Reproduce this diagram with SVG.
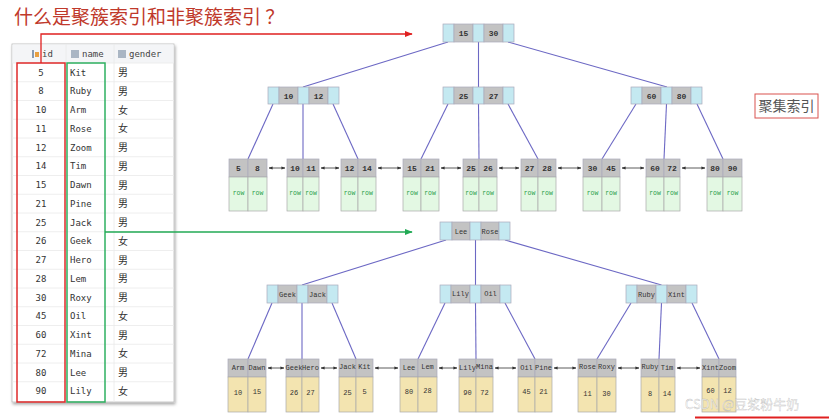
<svg xmlns="http://www.w3.org/2000/svg" width="829" height="419" viewBox="0 0 829 419">
<style>
.title{font-family:"Noto Sans CJK SC","Noto Sans",sans-serif;font-size:19px;fill:#c0392b}
.tb{font-family:"DejaVu Sans Mono","Liberation Mono",monospace;font-size:9px;fill:#333}
.tbc{font-family:"Noto Sans CJK SC",sans-serif;font-size:10px;fill:#333}
.th{font-family:"DejaVu Sans Mono","Liberation Mono",monospace;font-size:9px;fill:#444}
.ptr{fill:#c4e9f1;stroke:#aab;stroke-width:0.7}
.key{fill:#c3c3c3;stroke:#aab;stroke-width:0.7}
.kt{font-family:"Liberation Mono","DejaVu Sans Mono",monospace;font-size:8px;font-weight:bold;fill:#333;text-anchor:middle}
.nt{font-family:"Liberation Mono","DejaVu Sans Mono",monospace;font-size:7px;fill:#333;text-anchor:middle}
.row{fill:#e3f8e3;stroke:#aaa;stroke-width:0.7}
.yel{fill:#f3e4b0;stroke:#aaa;stroke-width:0.7}
.rt{font-family:"Liberation Mono",monospace;font-size:6.5px;fill:#2aa04a;text-anchor:middle}
.vt{font-family:"Liberation Mono",monospace;font-size:7px;fill:#333;text-anchor:middle}
.edge{stroke:#6c68c4;stroke-width:1.1;fill:none}
.link{stroke:#333;stroke-width:0.8;fill:none;marker-start:url(#sa);marker-end:url(#sa)}
.rl{stroke:#eaeaea;stroke-width:0.8}
</style>
<defs>
<marker id="sa" viewBox="0 0 10 10" refX="9" refY="5" markerWidth="5" markerHeight="5" orient="auto-start-reverse"><path d="M0,1 L10,5 L0,9 z" fill="#333"/></marker>
<marker id="ra" viewBox="0 0 10 10" refX="9" refY="5" markerWidth="6" markerHeight="6" orient="auto"><path d="M0,1 L10,5 L0,9 z" fill="#e02020"/></marker>
<marker id="ga" viewBox="0 0 10 10" refX="9" refY="5" markerWidth="6" markerHeight="6" orient="auto"><path d="M0,1 L10,5 L0,9 z" fill="#22aa55"/></marker>
<filter id="sh" x="-10%" y="-10%" width="120%" height="120%"><feDropShadow dx="1" dy="2" stdDeviation="1.5" flood-color="#000" flood-opacity="0.35"/></filter>
</defs>
<rect width="829" height="419" fill="#ffffff"/>
<text class="title" x="14" y="24">什么是聚簇索引和非聚簇索引 ？</text>

<g id="table">
<rect x="12" y="44" width="162" height="358" fill="#fff" stroke="#bbb" stroke-width="0.8" filter="url(#sh)"/>
<rect x="12.5" y="44.5" width="161" height="18.5" fill="#f4f5f7"/>
<line x1="66" y1="44" x2="66" y2="402" class="rl"/>
<line x1="114" y1="44" x2="114" y2="402" class="rl"/>
<g fill="#8a9bb0"><rect x="32" y="50" width="2" height="8"/><rect x="35" y="52" width="4" height="5" fill="#e8a040"/><rect x="71" y="50" width="8" height="8" fill="#aab6c4"/><rect x="118" y="50" width="8" height="8" fill="#aab6c4"/></g>
<text class="th" x="42" y="57">id</text>
<text class="th" x="82" y="57">name</text>
<text class="th" x="129" y="57">gender</text>
<g>
<line x1="12" y1="63" x2="174" y2="63" class="rl"/>
<line x1="12" y1="81.75" x2="174" y2="81.75" class="rl"/>
<line x1="12" y1="100.5" x2="174" y2="100.5" class="rl"/>
<line x1="12" y1="119.25" x2="174" y2="119.25" class="rl"/>
<line x1="12" y1="138" x2="174" y2="138" class="rl"/>
<line x1="12" y1="156.75" x2="174" y2="156.75" class="rl"/>
<line x1="12" y1="175.5" x2="174" y2="175.5" class="rl"/>
<line x1="12" y1="194.25" x2="174" y2="194.25" class="rl"/>
<line x1="12" y1="213" x2="174" y2="213" class="rl"/>
<line x1="12" y1="231.75" x2="174" y2="231.75" class="rl"/>
<line x1="12" y1="250.5" x2="174" y2="250.5" class="rl"/>
<line x1="12" y1="269.25" x2="174" y2="269.25" class="rl"/>
<line x1="12" y1="288" x2="174" y2="288" class="rl"/>
<line x1="12" y1="306.75" x2="174" y2="306.75" class="rl"/>
<line x1="12" y1="325.5" x2="174" y2="325.5" class="rl"/>
<line x1="12" y1="344.25" x2="174" y2="344.25" class="rl"/>
<line x1="12" y1="363" x2="174" y2="363" class="rl"/>
<line x1="12" y1="381.75" x2="174" y2="381.75" class="rl"/>
</g>
<g class="tb" text-anchor="middle">
<text x="41" y="75.5">5</text><text x="41" y="94.3">8</text><text x="41" y="113">10</text><text x="41" y="131.8">11</text><text x="41" y="150.5">12</text><text x="41" y="169.3">14</text><text x="41" y="188">15</text><text x="41" y="206.8">21</text><text x="41" y="225.5">25</text><text x="41" y="244.3">26</text><text x="41" y="263">27</text><text x="41" y="281.8">28</text><text x="41" y="300.5">30</text><text x="41" y="319.3">45</text><text x="41" y="338">60</text><text x="41" y="356.8">72</text><text x="41" y="375.5">80</text><text x="41" y="394.3">90</text>
</g>
<g class="tb">
<text x="70" y="75.5">Kit</text><text x="70" y="94.3">Ruby</text><text x="70" y="113">Arm</text><text x="70" y="131.8">Rose</text><text x="70" y="150.5">Zoom</text><text x="70" y="169.3">Tim</text><text x="70" y="188">Dawn</text><text x="70" y="206.8">Pine</text><text x="70" y="225.5">Jack</text><text x="70" y="244.3">Geek</text><text x="70" y="263">Hero</text><text x="70" y="281.8">Lem</text><text x="70" y="300.5">Roxy</text><text x="70" y="319.3">Oil</text><text x="70" y="338">Xint</text><text x="70" y="356.8">Mina</text><text x="70" y="375.5">Lee</text><text x="70" y="394.3">Lily</text>
</g>
<g class="tbc">
<text x="118" y="76">男</text><text x="118" y="94.8">男</text><text x="118" y="113.5">女</text><text x="118" y="132.3">女</text><text x="118" y="151">男</text><text x="118" y="169.8">男</text><text x="118" y="188.5">男</text><text x="118" y="207.3">男</text><text x="118" y="226">男</text><text x="118" y="244.8">女</text><text x="118" y="263.5">男</text><text x="118" y="282.3">男</text><text x="118" y="301">男</text><text x="118" y="319.8">女</text><text x="118" y="338.5">男</text><text x="118" y="357.3">女</text><text x="118" y="376">男</text><text x="118" y="394.8">女</text>
</g>
<rect x="17" y="63" width="48" height="339" fill="none" stroke="#e02a2a" stroke-width="1.5"/>
<rect x="67" y="63" width="38" height="339" fill="none" stroke="#2eb060" stroke-width="1.5"/>
</g>

<g id="connectors">
<path d="M41,63 V34 H412" stroke="#e02020" stroke-width="1.3" fill="none" marker-end="url(#ra)"/>
<path d="M105,232 H412" stroke="#22aa55" stroke-width="1.3" fill="none" marker-end="url(#ga)"/>
<line class="edge" x1="448" y1="42" x2="303" y2="87"/>
<line class="edge" x1="478.5" y1="42" x2="478.5" y2="87"/>
<line class="edge" x1="508" y1="42" x2="667" y2="87"/>
<line class="edge" x1="273" y1="104" x2="248" y2="159"/>
<line class="edge" x1="303" y1="104" x2="303" y2="159"/>
<line class="edge" x1="333" y1="104" x2="358" y2="159"/>
<line class="edge" x1="448" y1="104" x2="421" y2="159"/>
<line class="edge" x1="478.5" y1="104" x2="479" y2="159"/>
<line class="edge" x1="508" y1="104" x2="538" y2="159"/>
<line class="edge" x1="636" y1="104" x2="602" y2="159"/>
<line class="edge" x1="666.5" y1="104" x2="664" y2="159"/>
<line class="edge" x1="697" y1="104" x2="723" y2="159"/>
<line class="edge" x1="446" y1="240" x2="302" y2="285"/>
<line class="edge" x1="475.5" y1="240" x2="475.5" y2="285"/>
<line class="edge" x1="505" y1="240" x2="661.5" y2="285"/>
<line class="edge" x1="272" y1="303" x2="248" y2="359"/>
<line class="edge" x1="302" y1="303" x2="302" y2="359"/>
<line class="edge" x1="332" y1="303" x2="356" y2="359"/>
<line class="edge" x1="445" y1="303" x2="418" y2="359"/>
<line class="edge" x1="475.5" y1="303" x2="476" y2="359"/>
<line class="edge" x1="505" y1="303" x2="535" y2="359"/>
<line class="edge" x1="631" y1="303" x2="597" y2="359"/>
<line class="edge" x1="661.5" y1="303" x2="659" y2="359"/>
<line class="edge" x1="692" y1="303" x2="719" y2="359"/>
<line class="link" x1="269" y1="168" x2="285" y2="168"/>
<line class="link" x1="321" y1="168" x2="339" y2="168"/>
<line class="link" x1="378" y1="168" x2="401" y2="168"/>
<line class="link" x1="441" y1="168" x2="461" y2="168"/>
<line class="link" x1="499" y1="168" x2="519" y2="168"/>
<line class="link" x1="558" y1="168" x2="581" y2="168"/>
<line class="link" x1="622" y1="168" x2="644" y2="168"/>
<line class="link" x1="682" y1="168" x2="705" y2="168"/>
<line class="link" x1="268" y1="368" x2="284" y2="368"/>
<line class="link" x1="321" y1="368" x2="337" y2="368"/>
<line class="link" x1="375" y1="368" x2="398" y2="368"/>
<line class="link" x1="439" y1="368" x2="457" y2="368"/>
<line class="link" x1="495" y1="368" x2="516" y2="368"/>
<line class="link" x1="554" y1="368" x2="576" y2="368"/>
<line class="link" x1="618" y1="368" x2="639" y2="368"/>
<line class="link" x1="677" y1="368" x2="700" y2="368"/>
</g>

<g id="c-root"><rect class="ptr" x="443" y="24" width="11" height="18"/><rect class="key" x="454" y="24" width="19" height="18"/><rect class="ptr" x="473" y="24" width="11" height="18"/><rect class="key" x="484" y="24" width="19" height="18"/><rect class="ptr" x="503" y="24" width="11" height="18"/><text class="kt" x="463.5" y="36">15</text><text class="kt" x="493.5" y="36">30</text></g>
<g id="c-n1"><rect class="ptr" x="268" y="87" width="11" height="17"/><rect class="key" x="279" y="87" width="19" height="17"/><rect class="ptr" x="298" y="87" width="11" height="17"/><rect class="key" x="309" y="87" width="19" height="17"/><rect class="ptr" x="328" y="87" width="11" height="17"/><text class="kt" x="288.5" y="98.5">10</text><text class="kt" x="318.5" y="98.5">12</text></g>
<g id="c-n2"><rect class="ptr" x="443" y="87" width="11" height="17"/><rect class="key" x="454" y="87" width="19" height="17"/><rect class="ptr" x="473" y="87" width="11" height="17"/><rect class="key" x="484" y="87" width="19" height="17"/><rect class="ptr" x="503" y="87" width="11" height="17"/><text class="kt" x="463.5" y="98.5">25</text><text class="kt" x="493.5" y="98.5">27</text></g>
<g id="c-n3"><rect class="ptr" x="631" y="87" width="11" height="17"/><rect class="key" x="642" y="87" width="19" height="17"/><rect class="ptr" x="661" y="87" width="11" height="17"/><rect class="key" x="672" y="87" width="19" height="17"/><rect class="ptr" x="691" y="87" width="11" height="17"/><text class="kt" x="651.5" y="98.5">60</text><text class="kt" x="681.5" y="98.5">80</text></g>

<g id="c-l1"><rect class="key" x="229" y="159" width="19" height="18"/><rect class="key" x="248" y="159" width="19" height="18"/><rect class="row" x="229" y="177" width="19" height="34"/><rect class="row" x="248" y="177" width="19" height="34"/><text class="kt" x="238.5" y="171">5</text><text class="kt" x="257.5" y="171">8</text><text class="rt" x="238.5" y="195">row</text><text class="rt" x="257.5" y="195">row</text></g>
<g id="c-l2"><rect class="key" x="287" y="159" width="16" height="18"/><rect class="key" x="303" y="159" width="16" height="18"/><rect class="row" x="287" y="177" width="16" height="34"/><rect class="row" x="303" y="177" width="16" height="34"/><text class="kt" x="295" y="171">10</text><text class="kt" x="311" y="171">11</text><text class="rt" x="295" y="195">row</text><text class="rt" x="311" y="195">row</text></g>
<g id="c-l3"><rect class="key" x="341" y="159" width="17" height="18"/><rect class="key" x="358" y="159" width="18" height="18"/><rect class="row" x="341" y="177" width="17" height="34"/><rect class="row" x="358" y="177" width="18" height="34"/><text class="kt" x="349.5" y="171">12</text><text class="kt" x="367" y="171">14</text><text class="rt" x="349.5" y="195">row</text><text class="rt" x="367" y="195">row</text></g>
<g id="c-l4"><rect class="key" x="403" y="159" width="18" height="18"/><rect class="key" x="421" y="159" width="18" height="18"/><rect class="row" x="403" y="177" width="18" height="34"/><rect class="row" x="421" y="177" width="18" height="34"/><text class="kt" x="412" y="171">15</text><text class="kt" x="430" y="171">21</text><text class="rt" x="412" y="195">row</text><text class="rt" x="430" y="195">row</text></g>
<g id="c-l5"><rect class="key" x="463" y="159" width="16" height="18"/><rect class="key" x="479" y="159" width="18" height="18"/><rect class="row" x="463" y="177" width="16" height="34"/><rect class="row" x="479" y="177" width="18" height="34"/><text class="kt" x="471" y="171">25</text><text class="kt" x="488" y="171">26</text><text class="rt" x="471" y="195">row</text><text class="rt" x="488" y="195">row</text></g>
<g id="c-l6"><rect class="key" x="521" y="159" width="17" height="18"/><rect class="key" x="538" y="159" width="18" height="18"/><rect class="row" x="521" y="177" width="17" height="34"/><rect class="row" x="538" y="177" width="18" height="34"/><text class="kt" x="529.5" y="171">27</text><text class="kt" x="547" y="171">28</text><text class="rt" x="529.5" y="195">row</text><text class="rt" x="547" y="195">row</text></g>
<g id="c-l7"><rect class="key" x="583" y="159" width="19" height="18"/><rect class="key" x="602" y="159" width="18" height="18"/><rect class="row" x="583" y="177" width="19" height="34"/><rect class="row" x="602" y="177" width="18" height="34"/><text class="kt" x="592.5" y="171">30</text><text class="kt" x="611" y="171">45</text><text class="rt" x="592.5" y="195">row</text><text class="rt" x="611" y="195">row</text></g>
<g id="c-l8"><rect class="key" x="646" y="159" width="18" height="18"/><rect class="key" x="664" y="159" width="16" height="18"/><rect class="row" x="646" y="177" width="18" height="34"/><rect class="row" x="664" y="177" width="16" height="34"/><text class="kt" x="655" y="171">60</text><text class="kt" x="672" y="171">72</text><text class="rt" x="655" y="195">row</text><text class="rt" x="672" y="195">row</text></g>
<g id="c-l9"><rect class="key" x="707" y="159" width="16" height="18"/><rect class="key" x="723" y="159" width="19" height="18"/><rect class="row" x="707" y="177" width="16" height="34"/><rect class="row" x="723" y="177" width="19" height="34"/><text class="kt" x="715" y="171">80</text><text class="kt" x="732.5" y="171">90</text><text class="rt" x="715" y="195">row</text><text class="rt" x="732.5" y="195">row</text></g>

<g id="label-clustered"><rect x="755" y="94" width="63" height="24" fill="#fff" stroke="#d9534f" stroke-width="1"/><text x="786.5" y="111" text-anchor="middle" font-family="Noto Sans CJK SC, sans-serif" font-size="14" fill="#555">聚集索引</text></g>

<g id="n-root"><rect class="ptr" x="440" y="222" width="12" height="18"/><rect class="key" x="452" y="222" width="18" height="18"/><rect class="ptr" x="470" y="222" width="11" height="18"/><rect class="key" x="481" y="222" width="18" height="18"/><rect class="ptr" x="499" y="222" width="11" height="18"/><text class="nt" x="461" y="234">Lee</text><text class="nt" x="490" y="234">Rose</text></g>
<g id="n-n1"><rect class="ptr" x="267" y="285" width="11" height="18"/><rect class="key" x="278" y="285" width="19" height="18"/><rect class="ptr" x="297" y="285" width="11" height="18"/><rect class="key" x="308" y="285" width="19" height="18"/><rect class="ptr" x="327" y="285" width="11" height="18"/><text class="nt" x="287.5" y="297">Geek</text><text class="nt" x="317.5" y="297">Jack</text></g>
<g id="n-n2"><rect class="ptr" x="440" y="285" width="11" height="18"/><rect class="key" x="451" y="285" width="19" height="18"/><rect class="ptr" x="470" y="285" width="11" height="18"/><rect class="key" x="481" y="285" width="19" height="18"/><rect class="ptr" x="500" y="285" width="11" height="18"/><text class="nt" x="460.5" y="296">Lily</text><text class="nt" x="490.5" y="296">Oil</text></g>
<g id="n-n3"><rect class="ptr" x="626" y="285" width="11" height="18"/><rect class="key" x="637" y="285" width="19" height="18"/><rect class="ptr" x="656" y="285" width="11" height="18"/><rect class="key" x="667" y="285" width="19" height="18"/><rect class="ptr" x="686" y="285" width="11" height="18"/><text class="nt" x="646.5" y="297">Ruby</text><text class="nt" x="676.5" y="297">Xint</text></g>

<g id="n-l1"><rect class="key" x="228" y="359" width="20" height="18"/><rect class="key" x="248" y="359" width="18" height="18"/><rect class="yel" x="228" y="377" width="20" height="35"/><rect class="yel" x="248" y="377" width="18" height="35"/><text class="nt" x="238" y="370">Arm</text><text class="nt" x="257" y="370">Dawn</text><text class="vt" x="238" y="395">10</text><text class="vt" x="257" y="394">15</text></g>
<g id="n-l2"><rect class="key" x="286" y="359" width="16" height="18"/><rect class="key" x="302" y="359" width="17" height="18"/><rect class="yel" x="286" y="377" width="16" height="35"/><rect class="yel" x="302" y="377" width="17" height="35"/><text class="nt" x="294" y="370">Geek</text><text class="nt" x="310.5" y="370">Hero</text><text class="vt" x="294" y="395">26</text><text class="vt" x="310.5" y="395">27</text></g>
<g id="n-l3"><rect class="key" x="339" y="359" width="17" height="18"/><rect class="key" x="356" y="359" width="17" height="18"/><rect class="yel" x="339" y="377" width="17" height="35"/><rect class="yel" x="356" y="377" width="17" height="35"/><text class="nt" x="347.5" y="369">Jack</text><text class="nt" x="364.5" y="369">Kit</text><text class="vt" x="347.5" y="395">25</text><text class="vt" x="364.5" y="394">5</text></g>
<g id="n-l4"><rect class="key" x="400" y="359" width="18" height="18"/><rect class="key" x="418" y="359" width="19" height="18"/><rect class="yel" x="400" y="377" width="18" height="35"/><rect class="yel" x="418" y="377" width="19" height="35"/><text class="nt" x="409" y="370">Lee</text><text class="nt" x="427.5" y="369">Lem</text><text class="vt" x="409" y="394">80</text><text class="vt" x="427.5" y="393">28</text></g>
<g id="n-l5"><rect class="key" x="459" y="359" width="17" height="18"/><rect class="key" x="476" y="359" width="17" height="18"/><rect class="yel" x="459" y="377" width="17" height="35"/><rect class="yel" x="476" y="377" width="17" height="35"/><text class="nt" x="467.5" y="370">Lily</text><text class="nt" x="484.5" y="369">Mina</text><text class="vt" x="467.5" y="395">90</text><text class="vt" x="484.5" y="395">72</text></g>
<g id="n-l6"><rect class="key" x="518" y="359" width="17" height="18"/><rect class="key" x="535" y="359" width="17" height="18"/><rect class="yel" x="518" y="377" width="17" height="35"/><rect class="yel" x="535" y="377" width="17" height="35"/><text class="nt" x="526.5" y="370">Oil</text><text class="nt" x="543.5" y="370">Pine</text><text class="vt" x="526.5" y="394">45</text><text class="vt" x="543.5" y="394">21</text></g>
<g id="n-l7"><rect class="key" x="578" y="359" width="19" height="18"/><rect class="key" x="597" y="359" width="19" height="18"/><rect class="yel" x="578" y="377" width="19" height="35"/><rect class="yel" x="597" y="377" width="19" height="35"/><text class="nt" x="587.5" y="369">Rose</text><text class="nt" x="606.5" y="369">Roxy</text><text class="vt" x="587.5" y="396">11</text><text class="vt" x="606.5" y="396">30</text></g>
<g id="n-l8"><rect class="key" x="641" y="359" width="18" height="18"/><rect class="key" x="659" y="359" width="16" height="18"/><rect class="yel" x="641" y="377" width="18" height="35"/><rect class="yel" x="659" y="377" width="16" height="35"/><text class="nt" x="650" y="369">Ruby</text><text class="nt" x="667" y="370">Tim</text><text class="vt" x="650" y="396">8</text><text class="vt" x="667" y="396">14</text></g>
<g id="n-l9"><rect class="key" x="702" y="359" width="17" height="18"/><rect class="key" x="719" y="359" width="17" height="18"/><rect class="yel" x="702" y="377" width="17" height="35"/><rect class="yel" x="719" y="377" width="17" height="35"/><text class="nt" x="710.5" y="370">Xint</text><text class="nt" x="727.5" y="370">Zoom</text><text class="vt" x="710.5" y="393">60</text><text class="vt" x="727.5" y="393">12</text></g>

<text x="685" y="409" font-family="Noto Sans CJK SC, sans-serif" font-size="13" fill="#ffffff" fill-opacity="0.75" stroke="#999" stroke-width="0.4" stroke-opacity="0.6">CSDN @豆浆粉牛奶</text>
<line x1="695" y1="417.5" x2="829" y2="417.5" stroke="#e02020" stroke-width="2"/>
</svg>
